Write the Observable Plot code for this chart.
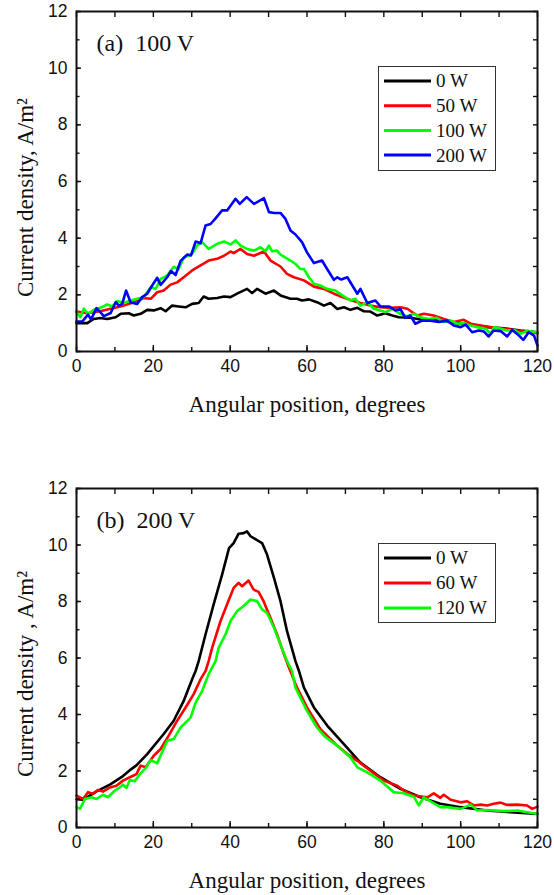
<!DOCTYPE html>
<html>
<head>
<meta charset="utf-8">
<script src="https://cdn.jsdelivr.net/npm/d3@7"></script>
<script src="https://cdn.jsdelivr.net/npm/@observablehq/plot@0.6"></script>
<style>
  html, body { margin: 0; padding: 0; background: #fff; }
  #wrap { position: relative; width: 554px; height: 895px; }
  #wrap > svg, #wrap > figure { display: block; margin: 0; }
  .legend { position: absolute; }
  .legend text { font-family: "Liberation Serif", "Times New Roman", Times, serif; font-size: 19px; font-weight: normal; }
</style>
</head>
<body>
<div id="wrap"></div>
<script>
// ---------- data ----------
const xTicksMajor = [0, 20, 40, 60, 80, 100, 120];
const xTicksAll = [0, 10, 20, 30, 40, 50, 60, 70, 80, 90, 100, 110, 120];
const yTicksMajor = [0, 2, 4, 6, 8, 10, 12];
const yTicksAll = [0, 1, 2, 3, 4, 5, 6, 7, 8, 9, 10, 11, 12];

const xLabel = "Angular position, degrees";
const yLabelA = "Current density, A/m²";
const yLabelB = "Current density , A/m²";
const titleA = "(a)\u00a0\u00a0100 V";
const titleB = "(b)\u00a0\u00a0200 V";

const namesA = ["0 W", "50 W", "100 W", "200 W"];
const colorsA = ["#000000", "#ff0000", "#00ff00", "#0000ff"];
const namesB = ["0 W", "60 W", "120 W"];
const colorsB = ["#000000", "#ff0000", "#00ff00"];

// panel (a) 100 V : [angle, current density]
const a0W = [[0,1.0],[2.8,1.0],[4.5,1.15],[6.2,1.18],[8,1.15],[10.2,1.21],[11.5,1.33],[13.6,1.35],[14.9,1.27],[16.7,1.33],[18.4,1.47],[20.1,1.45],[21.9,1.53],[23.2,1.42],[24.9,1.62],[26.6,1.59],[28.4,1.56],[30.1,1.68],[31.8,1.71],[33.1,1.94],[34.4,1.86],[36.6,1.89],[38.4,1.94],[40.1,1.92],[41.8,2.04],[44.4,2.21],[45.7,2.06],[47,2.21],[49.2,2.04],[51.4,2.15],[53.1,1.98],[55.7,1.86],[57.4,1.86],[58.7,1.8],[60.5,1.84],[62.6,1.74],[64.4,1.62],[66.1,1.71],[67.9,1.5],[69.6,1.56],[71.3,1.47],[73.1,1.54],[74.8,1.42],[76.5,1.41],[78.3,1.27],[80.4,1.35],[82.2,1.27],[83.9,1.21],[86.9,1.19],[90,1.12],[93,1.12],[95.6,1.07],[99.1,1.0],[102.6,0.95],[106.9,0.86],[111.2,0.82],[115.6,0.74],[120,0.68]];
const a50W = [[0,1.41],[2.8,1.35],[6.2,1.42],[8.8,1.51],[11.5,1.59],[14.9,1.74],[17.5,1.89],[19.3,1.86],[21,2.09],[22.7,2.15],[24.5,2.36],[26.2,2.44],[27.9,2.62],[30.1,2.86],[32.3,3.04],[34.4,3.21],[36.6,3.27],[38.4,3.38],[40.1,3.53],[40.9,3.47],[42.7,3.62],[44.4,3.44],[46.2,3.38],[48.8,3.53],[50.5,3.21],[53.1,3.0],[54.8,2.74],[56.6,2.62],[59.2,2.51],[61.8,2.29],[64.4,2.21],[67,2.04],[69.2,1.92],[71.3,1.82],[73.9,1.71],[76.5,1.62],[79.1,1.56],[81.7,1.54],[84.3,1.56],[86.1,1.51],[88.7,1.27],[90.4,1.33],[93,1.27],[95.6,1.15],[98.2,1.04],[100.8,1.12],[102.6,0.98],[105.2,0.92],[107.8,0.86],[111.2,0.8],[114.7,0.74],[117.3,0.68],[120,0.65]];
const a100W = [[0,1.39],[1,1.21],[1.9,1.51],[3,1.33],[4.5,1.47],[6.2,1.54],[8,1.66],[9.3,1.59],[10.6,1.78],[12.3,1.71],[14.1,1.8],[15.8,1.86],[17.5,1.92],[19.3,2.27],[20.6,2.21],[21.9,2.56],[23.6,2.68],[25.3,2.99],[26.6,2.91],[27.9,3.31],[30.1,3.45],[31.4,3.74],[32.7,3.86],[34.4,3.62],[36.6,3.8],[38.4,3.88],[40.1,3.78],[41.4,3.92],[42.7,3.74],[44.4,3.62],[46.2,3.56],[47.9,3.68],[49.2,3.54],[50.1,3.74],[50.9,3.54],[52.2,3.56],[53.1,3.42],[54.4,3.31],[55.7,3.21],[57,3.09],[58.3,2.91],[59.2,2.91],[60.5,2.62],[61.8,2.39],[63.5,2.33],[65.2,2.21],[67.4,2.15],[69.2,1.98],[71.3,1.8],[72.6,1.86],[73.9,1.62],[75.7,1.74],[77.4,1.51],[79.1,1.45],[80.4,1.39],[82.2,1.51],[84.3,1.33],[86.1,1.24],[87.8,1.33],[89.5,1.21],[91.7,1.15],[93.8,1.19],[95.6,1.04],[97.4,1.09],[99.1,0.98],[100.8,1.0],[102.6,0.92],[104.3,0.86],[106.5,0.8],[107.8,0.62],[108.7,0.86],[110.4,0.8],[112.1,0.74],[113.9,0.76],[115.6,0.62],[117.3,0.74],[119.1,0.68],[120,0.68]];
const a200W = [[0,1.06],[1.5,1.06],[3,1.3],[3.8,1.13],[5.2,1.53],[6.2,1.39],[7.1,1.25],[8.9,1.36],[10.2,1.74],[11,1.62],[11.9,1.68],[12.9,2.15],[14.1,1.73],[15.8,1.68],[17.1,1.92],[18.4,2.04],[19.7,2.33],[21,2.6],[21.9,2.35],[23.6,2.62],[24.6,2.84],[25.8,2.7],[27.1,3.2],[28.8,3.42],[29.8,3.39],[31,3.88],[32.3,3.82],[33.6,4.45],[34.9,4.5],[36.2,4.7],[37.9,4.98],[39.2,4.98],[41.4,5.39],[42.5,5.21],[44.3,5.45],[46.2,5.21],[48.8,5.41],[50.1,4.92],[51.5,4.89],[53.1,4.89],[54.4,4.68],[55.7,4.27],[57,4.13],[58.7,3.86],[60,3.5],[61.8,3.12],[63.9,3.21],[65.2,2.92],[67,2.53],[67.9,2.62],[68.9,2.54],[70.5,2.62],[71.8,2.33],[73.1,2.04],[73.9,2.21],[75.7,1.71],[77.8,1.8],[79.1,1.59],[81.3,1.59],[83,1.45],[84.3,1.5],[85.6,1.19],[86.9,1.27],[88.2,0.98],[90,1.09],[92.1,1.09],[94.3,1.04],[96.5,1.09],[98.2,0.92],[100,0.86],[101.3,0.95],[103,0.68],[104.7,0.74],[106,0.71],[107.3,0.53],[108.6,0.74],[110.4,0.72],[112.1,0.53],[113.4,0.76],[114.7,0.62],[116.3,0.41],[117.7,0.68],[119.1,0.56],[120,0.21]];

// panel (b) 200 V
const b0W = [[0,1.0],[1.7,0.98],[5.2,1.28],[8.7,1.52],[12.1,1.82],[14.1,2.05],[15.6,2.2],[18.4,2.6],[22.7,3.31],[25.3,3.78],[27.9,4.48],[30.1,5.25],[31,5.54],[31.8,5.89],[33.6,6.84],[35.7,7.9],[37.9,8.95],[39.7,9.89],[40.9,10.07],[42.2,10.4],[43.5,10.42],[44.4,10.48],[45.3,10.31],[47,10.17],[48.3,10.07],[49.6,9.66],[51.4,8.84],[53.1,8.01],[54.8,6.95],[57,5.89],[57.9,5.54],[59.2,4.95],[61.8,4.25],[65.3,3.6],[69.6,2.95],[73.9,2.3],[79.1,1.78],[84.3,1.37],[89.5,1.07],[94.7,0.84],[100,0.72],[106.9,0.6],[112.9,0.54],[120,0.48]];
const b60W = [[0,1.13],[1.7,1.01],[3,1.25],[4.3,1.19],[5.6,1.33],[6.9,1.27],[8.7,1.42],[10.4,1.48],[12.1,1.66],[13.9,1.78],[15.6,1.89],[16.7,2.19],[18,2.13],[20.1,2.54],[21.9,2.78],[24,3.25],[26.2,3.78],[28.4,4.25],[30.5,4.72],[32.3,5.25],[33.6,5.54],[34.4,5.89],[35.3,6.36],[37.5,7.31],[39.2,7.9],[40.9,8.48],[42.2,8.66],[43.1,8.54],[44.8,8.74],[46.1,8.42],[47.4,8.34],[48.7,8.01],[50.5,7.42],[52.2,6.84],[54,6.13],[55.3,5.66],[57.4,4.95],[60,4.25],[63.5,3.48],[67.9,2.89],[70.5,2.6],[73.1,2.36],[76.5,2.01],[80,1.66],[83.5,1.48],[85.2,1.31],[87.8,1.13],[91.3,1.07],[93,1.21],[94.7,1.05],[95.6,1.16],[97.4,0.98],[100,0.89],[101.7,0.93],[103.4,0.78],[105.2,0.81],[106.9,0.78],[108.6,0.84],[110.4,0.88],[112.1,0.8],[114.7,0.81],[117.3,0.78],[118.6,0.66],[120,0.74]];
const b120W = [[0,0.72],[0.9,0.66],[2.2,1.01],[3.9,1.07],[5.2,1.01],[6.9,1.16],[8.2,1.07],[10,1.31],[11.3,1.42],[12.1,1.52],[13,1.4],[13.9,1.68],[15.2,1.64],[16.5,1.89],[18.2,2.13],[19.3,2.39],[21,2.27],[23.6,3.07],[25.3,3.13],[27.1,3.54],[29.7,3.89],[31,4.42],[32.7,4.83],[34.4,5.43],[36.2,5.89],[37,6.36],[38.8,6.84],[40.1,7.31],[41.8,7.66],[43.5,7.84],[45.3,8.07],[47,8.01],[48.3,7.72],[49.6,7.6],[51.4,7.07],[53.1,6.48],[54.8,5.89],[56.1,5.54],[57,4.95],[60,4.13],[62.6,3.54],[64.4,3.25],[67.9,2.89],[71.3,2.48],[73.1,2.13],[75.7,1.95],[79.1,1.66],[82.6,1.25],[85.2,1.21],[87.8,1.09],[89.1,0.78],[90.4,1.07],[94.7,0.72],[96.5,0.72],[100,0.66],[102.6,0.81],[104.3,0.6],[106.9,0.62],[111.2,0.58],[114.7,0.6],[117.3,0.54],[120,0.48]];

// ---------- drawing ----------
const SERIF = "Liberation Serif, Times New Roman, Times, serif";
const SANS = "Liberation Sans, Arial, Helvetica, sans-serif";

function panel({series, names, colors, title, yLabel, height, marginTop, marginBottom}) {
  const data = series.flatMap((s, i) => s.map(([x, y]) => ({x, y, name: names[i]})));
  return Plot.plot({
    width: 554,
    height,
    marginLeft: 76,
    marginRight: 17,
    marginTop,
    marginBottom,
    style: {background: "white", overflow: "visible"},
    x: {domain: [0, 120], label: null},
    y: {domain: [0, 12], label: null},
    color: {domain: names, range: colors},
    marks: [
      Plot.line(data, {x: "x", y: "y", z: "name", stroke: "name", strokeWidth: 2.6, curve: "linear"}),
      Plot.frame({stroke: "#111", strokeWidth: 2}),
      // inward ticks, all four sides
      Plot.axisX({ticks: xTicksMajor, anchor: "bottom", tickSize: -6, text: null, strokeWidth: 1.4, stroke: "#111"}),
      Plot.axisX({ticks: xTicksAll, anchor: "bottom", tickSize: -4, text: null, strokeWidth: 1.4, stroke: "#111"}),
      Plot.axisX({ticks: xTicksAll, anchor: "top", tickSize: -5, text: null, strokeWidth: 1.4, stroke: "#111"}),
      Plot.axisY({ticks: yTicksMajor, anchor: "left", tickSize: -5, text: null, strokeWidth: 1.4, stroke: "#111"}),
      Plot.axisY({ticks: yTicksAll, anchor: "left", tickSize: -3.5, text: null, strokeWidth: 1.4, stroke: "#111"}),
      Plot.axisY({ticks: yTicksAll, anchor: "right", tickSize: -5, text: null, strokeWidth: 1.4, stroke: "#111"}),
      // tick labels
      Plot.axisX({ticks: xTicksMajor, anchor: "bottom", tickSize: 0, tickPadding: 8, fontSize: 17.5, fontFamily: SANS, fill: "#111"}),
      Plot.axisY({ticks: yTicksMajor, anchor: "left", tickSize: 0, tickPadding: 9, fontSize: 17.5, fontFamily: SANS, fill: "#111"}),
      // axis titles
      Plot.text([xLabel], {frameAnchor: "bottom", dy: 53, lineAnchor: "middle", fontSize: 23, fontFamily: SERIF, fill: "#111"}),
      Plot.text([yLabel], {frameAnchor: "left", rotate: -90, dx: -44, dy: 16, lineAnchor: "bottom", textAnchor: "middle", fontSize: 23, fontFamily: SERIF, fill: "#111"}),
      // panel title
      Plot.text([title], {frameAnchor: "top-left", dx: 20, dy: 39, lineAnchor: "bottom", textAnchor: "start", fontSize: 24, fontFamily: SERIF, fill: "#111"})
    ]
  });
}

function legend({names, colors, left, top, rowStep, height}) {
  const w = 118;
  const div = d3.select("#wrap").append("div").attr("class", "legend")
    .style("left", left + "px").style("top", top + "px");
  const svg = div.append("svg").attr("width", w).attr("height", height).style("display", "block");
  svg.append("rect").attr("x", 0.5).attr("y", 0.5).attr("width", w - 1).attr("height", height - 1)
    .attr("fill", "white").attr("stroke", "#333").attr("stroke-width", 1);
  names.forEach((n, i) => {
    const cy = 15 + i * rowStep;
    svg.append("line").attr("x1", 6).attr("x2", 53).attr("y1", cy).attr("y2", cy)
      .attr("stroke", colors[i]).attr("stroke-width", 3);
    svg.append("text").attr("x", 58).attr("y", cy).attr("dy", "0.34em")
      .style("font-family", SERIF).style("font-size", "19px").attr("fill", "#111").text(n);
  });
}

const wrap = document.getElementById("wrap");
wrap.appendChild(panel({
  series: [a0W, a50W, a100W, a200W], names: namesA, colors: colorsA,
  title: titleA, yLabel: yLabelA, height: 440, marginTop: 11, marginBottom: 89
}));
wrap.appendChild(panel({
  series: [b0W, b60W, b120W], names: namesB, colors: colorsB,
  title: titleB, yLabel: yLabelB, height: 455, marginTop: 48, marginBottom: 68
}));
legend({names: namesA, colors: colorsA, left: 378, top: 66, rowStep: 24.7, height: 105});
legend({names: namesB, colors: colorsB, left: 378, top: 543, rowStep: 25, height: 80});
</script>
</body>
</html>
